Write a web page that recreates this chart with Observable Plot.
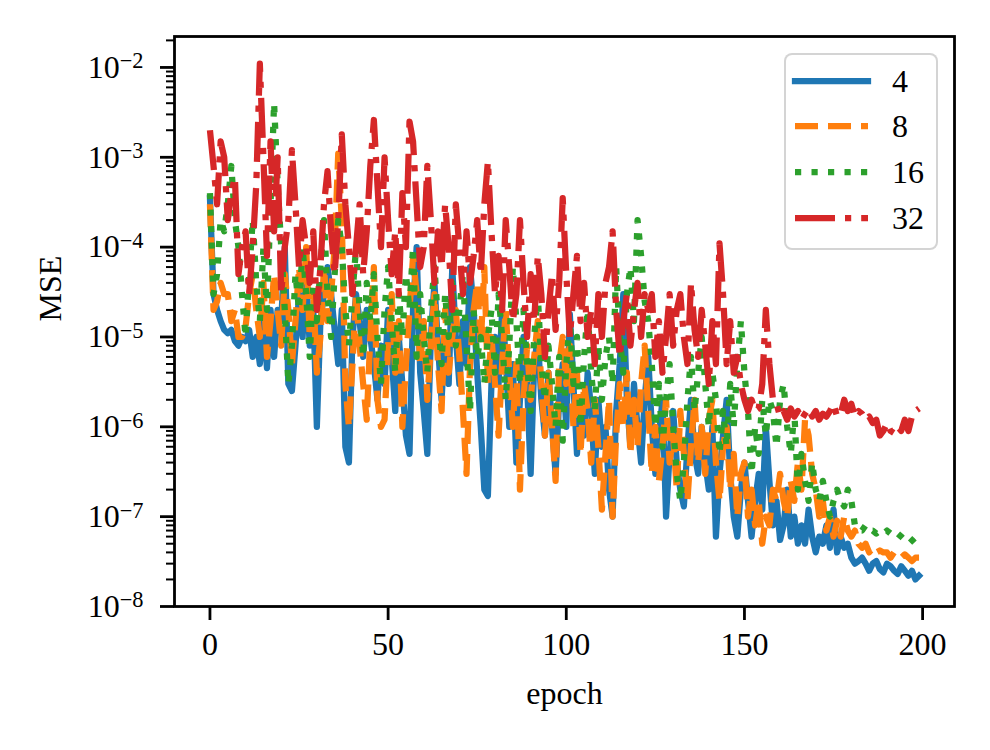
<!DOCTYPE html>
<html><head><meta charset="utf-8">
<script src="https://cdn.jsdelivr.net/npm/d3@7"></script>
<script src="https://cdn.jsdelivr.net/npm/@observablehq/plot@0.6"></script>
<style>
body{margin:0;background:#fff;}
#wrap{position:relative;width:990px;height:750px;font-family:"Liberation Serif",serif;}
#legend{position:absolute;left:784px;top:53px;width:150px;height:193px;border:2.5px solid rgba(204,204,204,0.85);border-radius:8px;background:rgba(255,255,255,0.85);}
</style></head><body><div id="wrap"></div>
<script>
const seriesNames = ["4", "8", "16", "32"];
const seriesColors = ["#1f77b4", "#ff7f0e", "#2ca02c", "#d62728"];
const xTicks = [0, 50, 100, 150, 200];
const yTicks = [1e-8, 1e-7, 1e-6, 1e-5, 1e-4, 1e-3, 1e-2];

const mse4 = [
3.5e-4,3e-5,2e-5,1.5e-5,1.2e-5,1.1e-5,1.2e-5,9e-6,8e-6,1e-5,
9e-6,1.2e-5,6e-6,1e-5,5e-6,1.5e-5,4.5e-6,2e-5,6e-6,2e-5,
1.5e-5,1e-4,3e-6,2.5e-6,8e-6,3e-5,1e-5,5e-5,8e-6,2e-5,
1e-6,1.5e-5,3e-5,6e-5,3e-5,1.2e-5,5e-6,2e-5,6e-7,4e-7,
1e-5,3e-5,1.5e-5,6e-6,2e-5,1e-5,5e-6,2e-6,8e-6,3e-6,
2e-5,6e-6,1.5e-6,1e-5,3e-6,8e-7,5e-7,2e-5,1e-4,4e-6,
1.5e-6,5e-7,1e-5,4e-5,8e-6,2e-6,1e-5,3e-6,6e-5,1e-5,
3e-6,1.5e-5,5e-6,6e-5,2e-5,4e-6,1e-6,2e-7,1.7e-7,3e-6,
1e-5,3e-6,2e-5,6e-6,1e-6,5e-6,4e-7,2e-6,1e-5,3e-6,
3e-7,5e-6,1e-5,2e-6,8e-7,4e-6,1e-6,3e-7,2e-6,5e-6,
1e-6,1.8e-5,3e-6,5e-7,2e-6,8e-7,4e-6,1.5e-6,3e-7,2e-6,
6e-7,1e-6,2e-7,1e-7,1.5e-6,5e-6,3e-5,2e-6,6e-7,3e-6,
1e-6,4e-7,2e-6,6e-6,1e-6,3e-7,8e-7,2e-6,1e-7,5e-7,
1.5e-6,4e-7,2e-7,1.3e-7,6e-7,2e-6,5e-7,3e-7,1e-6,4e-7,
2e-7,1e-6,6e-8,3e-7,8e-7,2e-6,3e-7,1e-7,6e-8,2e-7,
4e-7,1.5e-7,6e-8,1.5e-7,3e-7,1.2e-7,1e-6,2.5e-7,8e-8,1.5e-7,
5.5e-8,8e-8,2e-7,6e-8,1e-7,5e-8,8e-8,5e-8,1.2e-7,6e-8,
4e-8,6e-8,5e-8,8e-8,4.5e-8,1.2e-7,4e-8,6e-8,4.5e-8,5e-8,
3.5e-8,3e-8,3.2e-8,3.5e-8,3e-8,2.5e-8,3e-8,3.2e-8,2.6e-8,2.4e-8,
3e-8,2.8e-8,2.5e-8,2.3e-8,2.8e-8,2.5e-8,2.2e-8,2.5e-8,2e-8,2.2e-8];

const mse8 = [
3e-4,2e-5,2.5e-5,4e-5,3e-5,3e-5,1.5e-5,2e-5,1e-5,1e-5,
1.3e-5,3e-5,5e-5,2e-5,1e-5,4e-5,6e-6,1.5e-5,5e-5,2e-5,
8e-6,5e-5,2e-5,5e-6,1.5e-5,6e-5,2e-5,1e-4,1e-5,3e-5,
4e-6,1e-5,6e-5,1.5e-5,3e-5,1e-4,1.1e-3,2e-4,3e-6,1e-6,
5e-6,3e-5,8e-6,3e-6,1.2e-6,1e-5,6e-5,2e-6,1e-6,1.2e-6,
8e-6,3e-5,4e-6,1.5e-5,1e-6,5e-6,2e-5,8e-5,3e-5,5e-6,
1.5e-5,2e-6,8e-6,3e-5,5e-6,1.5e-6,2e-5,4e-6,1e-5,2e-5,
6e-6,1.5e-6,3e-7,5e-6,2e-5,4e-5,8e-6,6e-5,3e-6,1e-5,
3e-6,8e-7,5e-6,2e-5,4e-6,1e-6,5e-6,2e-7,2e-6,8e-6,
2e-6,6e-6,1.5e-5,3e-6,8e-7,4e-6,1e-6,2.5e-7,5e-6,1e-5,
3e-6,8e-6,1e-6,4e-6,5e-7,3e-6,1.5e-6,4e-7,2e-6,6e-7,
1.2e-7,5e-7,2e-6,1e-7,8e-7,3e-6,1e-6,4e-6,5e-7,2e-6,
6e-7,3e-6,8e-6,1.5e-6,3e-7,1e-6,2.5e-7,6e-7,2e-6,4e-7,
8e-7,2e-7,1.5e-6,5e-7,1.5e-7,6e-7,2e-6,4e-7,1e-6,3e-7,
1.2e-6,2e-6,4e-7,1.5e-7,6e-7,1e-6,2e-7,5e-7,1e-7,3e-7,
4e-7,1e-7,2e-7,8e-8,1.5e-7,5e-8,1e-7,8e-8,2e-7,1.5e-7,
3e-7,1.5e-7,1e-7,2.5e-7,1.5e-7,4e-7,2e-7,1.2e-6,8e-7,3e-7,
2e-7,1e-7,1.5e-7,7e-8,1e-7,6e-8,9e-8,6e-8,1e-7,7e-8,
6e-8,7e-8,5e-8,4.5e-8,5e-8,4e-8,4.5e-8,4e-8,4.2e-8,4e-8,
4e-8,3.5e-8,4e-8,3.8e-8,3.5e-8,3.8e-8,3.5e-8,3.2e-8,3.5e-8,3.5e-8];

const mse16 = [
4e-4,3e-5,5e-5,2e-4,1.5e-4,3e-4,8e-4,2e-4,1e-4,3e-5,
1e-5,5e-5,2e-4,4e-5,1.5e-5,1e-4,2e-5,3e-4,4e-3,5e-4,
1e-4,2e-5,3e-6,8e-6,5e-5,2e-5,1e-4,3e-5,6e-6,4e-5,
1.5e-5,6e-5,2e-4,3e-5,1e-5,5e-5,2e-4,1e-4,2e-5,8e-6,
3e-5,1e-4,2e-5,6e-6,4e-5,1.5e-5,5e-5,1e-5,3e-6,2e-5,
6e-5,1.5e-5,4e-6,3e-5,1e-5,5e-5,2e-5,1e-4,6e-6,3e-5,
1e-5,4e-6,2e-5,6e-5,1.5e-5,5e-6,3e-5,1e-5,4e-5,8e-6,
2e-5,5e-5,8e-6,1.5e-6,2e-5,6e-6,1e-5,3e-6,1e-5,2e-5,
4e-6,3e-5,1e-5,2e-6,8e-6,6e-5,1.5e-5,3e-6,2e-5,5e-6,
1.5e-6,1e-5,3e-5,5e-6,2e-6,8e-6,3e-6,1e-6,6e-6,7e-7,
5e-6,1.5e-5,3e-6,1e-5,1e-6,6e-6,2e-5,4e-6,1.5e-6,8e-6,
2e-6,6e-6,1e-5,3e-6,6e-5,1e-5,4e-6,3e-5,6e-5,1.5e-5,
2e-4,8e-5,2.5e-5,1.5e-5,5e-6,1e-6,3e-6,6e-7,2e-6,5e-6,
1e-6,3e-7,1.5e-7,4e-7,2e-6,6e-6,1.5e-6,4e-6,1e-5,3e-6,
1e-6,4e-6,2e-6,5e-7,1.5e-6,6e-7,3e-6,1e-6,5e-6,1.5e-5,
4e-6,1.5e-6,3e-7,1e-6,5e-7,2e-6,8e-7,2e-6,1.5e-6,6e-7,
2e-6,3e-6,1e-6,5e-7,1.5e-6,2e-7,5e-7,2.5e-7,1.5e-7,4e-7,
2e-7,1.5e-7,2.5e-7,1.5e-7,1e-7,1.5e-7,2e-7,1.5e-7,1.3e-7,2e-7,
1.5e-7,8e-8,7e-8,7e-8,8e-8,7e-8,7e-8,6.5e-8,7e-8,6.5e-8,
7e-8,6.5e-8,6e-8,6.5e-8,6e-8,5.5e-8,6e-8,5.5e-8,5e-8,5e-8];

const mse32 = [
2e-3,8e-4,3e-4,1.5e-3,1e-3,2e-4,4e-4,6e-4,5e-5,1e-4,
1.5e-4,3e-5,1e-4,5e-4,1.1e-2,1e-3,8e-5,1.5e-3,1.5e-4,1e-3,
3e-5,1e-4,2e-4,1.2e-3,3e-4,6e-5,2e-4,1e-4,4e-5,1.5e-4,
2e-5,6e-5,3e-4,7e-4,1.5e-4,5e-5,2e-4,1.8e-3,3e-4,1e-4,
3e-5,1e-4,3e-4,5e-5,1.5e-4,8e-4,2.6e-3,5e-4,1e-4,1e-3,
2e-4,5e-5,1.5e-4,3e-5,4e-4,1e-4,2.5e-3,1.5e-3,3e-4,6e-5,
1e-4,8e-4,2e-4,4e-5,1.5e-4,6e-5,3e-4,1e-4,2e-5,3e-4,
1e-4,3e-5,1.5e-4,4e-5,8e-5,2e-4,5e-5,3e-4,9e-4,1.5e-4,
3e-5,8e-5,2e-5,2e-4,6e-5,1.5e-5,3e-5,2e-4,4e-5,1e-5,
5e-5,1.5e-5,8e-5,3e-5,6e-6,2e-5,5e-5,1.2e-5,4e-5,3.5e-4,
5e-5,1e-5,3e-5,8e-5,1.5e-5,4e-5,1e-5,2e-5,5e-6,3e-5,
1e-5,4e-5,6e-5,1.5e-4,2e-5,6e-6,1.5e-5,3e-5,8e-6,2e-5,
4e-5,1e-5,3e-5,2e-5,3e-5,6e-6,1.5e-5,4e-6,1e-5,3e-5,
8e-6,2e-5,3e-5,1e-5,5e-6,4e-5,1.2e-5,6e-6,2e-5,8e-6,
3e-6,1.5e-5,5e-6,1.1e-4,3e-5,5e-6,1.5e-5,4e-6,6e-6,3e-6,
2e-6,1.5e-6,2e-6,1.5e-6,1.6e-6,3e-6,2e-5,5e-6,2e-6,1.8e-6,
1.3e-6,1.5e-6,1.2e-6,1.6e-6,1.3e-6,1.5e-6,1.2e-6,1.4e-6,1.6e-6,1.3e-6,
1.5e-6,1.2e-6,1.4e-6,1.3e-6,1.5e-6,1.8e-6,1.3e-6,1.4e-6,2e-6,1.5e-6,
1.8e-6,1.3e-6,1.5e-6,1.4e-6,1.2e-6,1.3e-6,1.1e-6,1.2e-6,8e-7,9e-7,
1.1e-6,9e-7,8.5e-7,1e-6,9e-7,1.2e-6,9e-7,1.3e-6,1.5e-6,1.6e-6];

const allSeries = [mse4, mse8, mse16, mse32];
const dashes = [null, "23,10", "6.2,10.3", "40,10,6.2,10"];

const minorTicks = [];
for (let d = -8; d <= -2; d++) for (let k = 2; k <= 9; k++) { const v = k * 10 ** d; if (v < 0.022) minorTicks.push(v); }

const FS = 32;
const FSY = 32;
const lineMarks = allSeries.map((vals, i) =>
  Plot.line(vals.map((v, e) => ({epoch: e, mse: v})), {
    x: "epoch", y: "mse", stroke: seriesColors[i], strokeWidth: 6.25,
    strokeDasharray: dashes[i], strokeLinejoin: "round",
    strokeLinecap: dashes[i] ? "butt" : "square"
  }));

const chart = Plot.plot({
  width: 990, height: 750,
  marginLeft: 174, marginRight: 36, marginTop: 36, marginBottom: 144,
  style: {fontFamily: "'Liberation Serif', serif", fontSize: FS + "px", background: "white", color: "black", overflow: "visible"},
  x: {domain: [-9.95, 208.95]},
  y: {type: "log", domain: [1e-8, 0.0221]},
  marks: [
    ...lineMarks,
    Plot.frame({stroke: "black", strokeWidth: 2.8}),
    Plot.axisX({ticks: xTicks, tickSize: 14, tickPadding: 12, strokeWidth: 2.8, tickFormat: d => String(d), label: null, fontSize: FS}),
    Plot.axisY({ticks: yTicks, tickSize: 14, tickPadding: 17, strokeWidth: 2.8, tickFormat: d => "10^" + Math.round(Math.log10(d)), label: null, fontSize: FSY}),
    Plot.axisY({ticks: minorTicks, tickSize: 8, strokeWidth: 2, tickFormat: () => "", label: null}),
    Plot.text(["epoch"], {frameAnchor: "bottom", dy: 97, fontSize: FS, text: d => d}),
    Plot.text(["MSE"], {frameAnchor: "left", dx: -124, rotate: -90, fontSize: FS, text: d => d})
  ]
});

// superscript exponents on y tick labels
d3.select(chart).selectAll('g[aria-label="y-axis tick label"] text').each(function() {
  const t = d3.select(this);
  const s = t.text();
  if (!s.startsWith("10^")) return;
  const exp = s.slice(3).replace("-", "\u2212");
  t.text("");
  t.append("tspan").text("10");
  t.append("tspan").attr("dy", "-0.42em").attr("font-size", (FSY * 0.7) + "px").text(exp);
});

const wrap = document.getElementById("wrap");
wrap.appendChild(chart);

// legend
const leg = d3.select(wrap).append("div").attr("id", "legend");
const lsvg = leg.append("svg").attr("width", 150).attr("height", 193);
const rowY = [26, 71, 117, 163];
seriesNames.forEach((name, i) => {
  lsvg.append("line").attr("x1", 9).attr("x2", 82).attr("y1", rowY[i]).attr("y2", rowY[i])
    .attr("stroke", seriesColors[i]).attr("stroke-width", 6.25)
    .attr("stroke-dasharray", dashes[i]).attr("stroke-linecap", dashes[i] ? "butt" : "square");
  lsvg.append("text").attr("x", 106).attr("y", rowY[i]).attr("dy", "0.35em")
    .attr("font-family", "'Liberation Serif', serif").attr("font-size", FS).text(name);
});
</script></body></html>
